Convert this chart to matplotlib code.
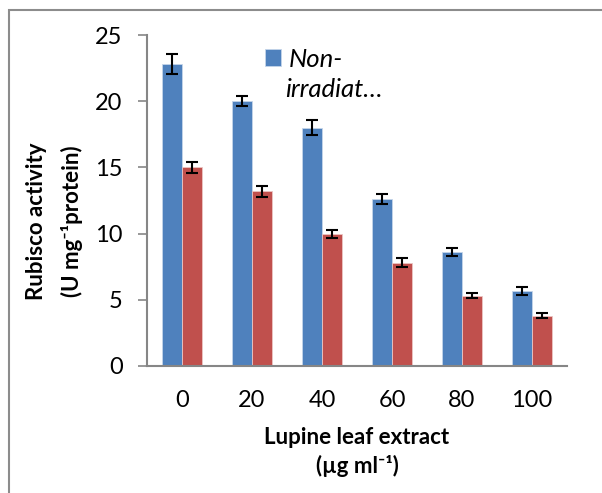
import matplotlib
matplotlib.use('Agg')
import matplotlib.pyplot as plt
from matplotlib.patches import Rectangle
import numpy as np

plt.rcParams['font.family'] = ['Lato', 'DejaVu Sans']

# Lupine leaf extract concentrations (ug/ml)
doses = ['0', '20', '40', '60', '80', '100']
non_irr = [22.8, 20.0, 18.0, 12.6, 8.6, 5.7]
non_irr_err = [0.75, 0.4, 0.55, 0.4, 0.3, 0.3]
irr = [15.0, 13.2, 10.0, 7.8, 5.3, 3.8]
irr_err = [0.4, 0.4, 0.3, 0.35, 0.2, 0.2]

fig = plt.figure(figsize=(6.02, 4.93), dpi=100)
ax = fig.add_axes([147/602, 1-366/493, 420/602, 331/493])

x = np.arange(len(doses))
w = 0.29
err_kw = dict(ecolor='black', elinewidth=1.5, capsize=4.5, capthick=1.5)
ax.bar(x - w/2, non_irr, w, yerr=non_irr_err, color='#4F81BD', edgecolor='#C5D5EA',
       linewidth=0.6, error_kw=err_kw, label='Non-', zorder=2)
ax.bar(x + w/2, irr, w, yerr=irr_err, color='#C0504D', edgecolor='#EBC5C4',
       linewidth=0.6, error_kw=err_kw, zorder=2)

ax.set_xlim(-0.5, 5.5)
ax.set_ylim(0, 25)
ax.set_yticks([0, 5, 10, 15, 20, 25])
ax.set_xticks(x)
ax.set_xticklabels(doses)
ax.tick_params(axis='y', length=6.5, width=1.2, color='#868686', labelsize=17, pad=11)
ax.tick_params(axis='x', length=0, labelsize=17, pad=17)

for s in ['top', 'right']:
    ax.spines[s].set_visible(False)
for s in ['left', 'bottom']:
    ax.spines[s].set_color('#868686')
    ax.spines[s].set_linewidth(1.5)

# truncated legend entry, wrapped over two lines
ax.legend(loc='upper left', bbox_to_anchor=(0.281, 0.962), frameon=False,
          prop={'style': 'italic', 'size': 18.5}, handlelength=0.62, handleheight=0.62,
          handletextpad=0.3, borderaxespad=0, borderpad=0)
ax.text(0.328, 0.834, 'irradiat…', transform=ax.transAxes, ha='left', va='center',
        fontsize=18.5, style='italic')

fig.text(37/602, 1-221/493, 'Rubisco activity', rotation=90, ha='center', va='center',
         fontsize=16, fontweight='bold')
fig.text(72/602, 1-221/493, '(U mg⁻¹protein)', rotation=90, ha='center', va='center',
         fontsize=16, fontweight='bold')
fig.text(357/602, 1-437/493, 'Lupine leaf extract', ha='center', va='center',
         fontsize=16, fontweight='bold')
fig.text(357/602, 1-466/493, '(µg ml⁻¹)', ha='center', va='center',
         fontsize=16, fontweight='bold')

# outer chart frame
fig.add_artist(Rectangle((9/602, -0.1), 1.0, (493-10)/493 + 0.1, transform=fig.transFigure,
                         fill=False, edgecolor='#8C8C8C', linewidth=1.5))

fig.savefig('out.png', dpi=100)
